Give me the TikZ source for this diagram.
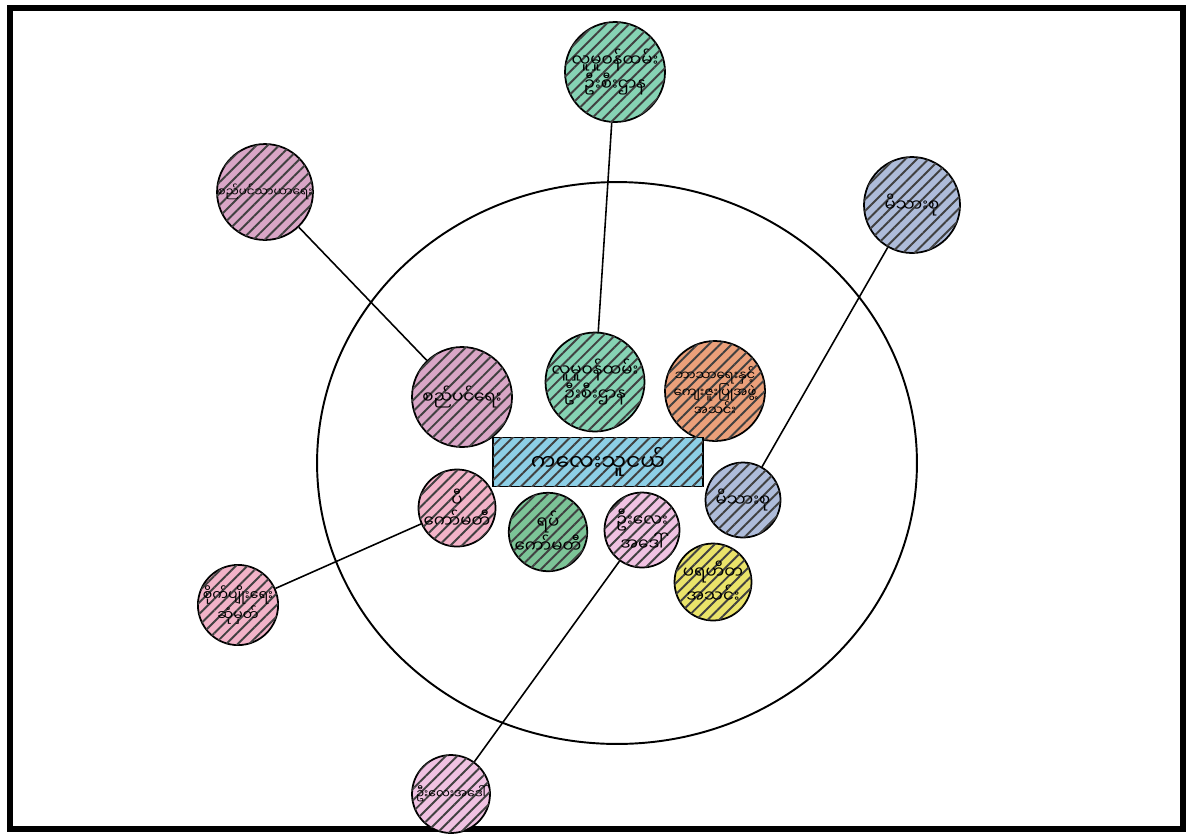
\documentclass[tikz,border=0pt]{standalone}
\usepackage{fontspec}
\newfontfamily\mmfont[Script=Myanmar]{Noto Sans Myanmar UI}
\usetikzlibrary{patterns.meta}
\definecolor{hatchGreen}{HTML}{86D3B4}
\definecolor{hatchMauve}{HTML}{D9A6C6}
\definecolor{hatchBlue}{HTML}{AEBCDA}
\definecolor{hatchOrange}{HTML}{EBA07A}
\definecolor{hatchSky}{HTML}{8DCFE6}
\definecolor{hatchRose}{HTML}{F2B3C8}
\definecolor{hatchLeaf}{HTML}{7CC497}
\definecolor{hatchLilac}{HTML}{F0C2E2}
\definecolor{hatchYellow}{HTML}{EAE36A}
\tikzset{
  hatched/.style={postaction={pattern={Lines[angle=45,distance=4.6pt,line width=1.1pt]},
                  pattern color=black!75}},
  bubble/.style={circle, draw=black, line width=1pt, inner sep=0pt, align=center,
                 font=\mmfont\fontsize{9.5}{12}\selectfont, hatched},
  bigBubble/.style={bubble, minimum size=2cm},
  smallBubble/.style={bubble, minimum size=1.5cm},
  tinyText/.style={font=\mmfont\fontsize{6.8}{9}\selectfont},
  link/.style={draw=black, line width=0.9pt},
}

\begin{document}
\begin{tikzpicture}[x=0.02cm, y=-0.02cm]
  \useasboundingbox (0,0) rectangle (1192,836);
  \fill[white] (0,0) rectangle (1192,836);
  \draw[line width=3pt] (10,8) rectangle (1183,829);

  % community ring
  \draw[line width=1.1pt] (617,463) ellipse [x radius=6cm, y radius=5.62cm];

  % outer bubbles
  \node[bigBubble, fill=hatchGreen] (welfareOut) at (615,72) {လူမှုဝန်ထမ်း\\ဦးစီးဌာန};
  \node[bigBubble, minimum size=1.9cm, fill=hatchMauve, tinyText] (townOut) at (265,192) {စည်ပင်သာယာရေး};
  \node[bigBubble, minimum size=1.92cm, fill=hatchBlue] (familyOut) at (912,205) {မိသားစု};
  \node[smallBubble, minimum size=1.6cm, fill=hatchRose, font=\mmfont\fontsize{8}{10.5}\selectfont] (fieldOut) at (238,605) {စိုက်ပျိုးရေး\\ဆုံမှတ်};
  \node[smallBubble, minimum size=1.56cm, fill=hatchLilac, font=\mmfont\fontsize{7}{9}\selectfont] (kinOut) at (451,794) {ဦးလေးအဒေါ်};

  % inner bubbles
  \node[bigBubble, fill=hatchMauve] (townIn) at (462,397) {စည်ပင်ရေး};
  \node[bigBubble, minimum size=1.98cm, fill=hatchGreen] (welfareIn) at (595,382) {လူမှုဝန်ထမ်း\\ဦးစီးဌာန};
  \node[bigBubble, fill=hatchOrange, font=\mmfont\fontsize{7.5}{10}\selectfont] (faithIn) at (715,391) {ဘာသာရေးနှင့်\\ကျေးဇူးပြုအဖွဲ့\\အသင်း};
  \node[smallBubble, fill=hatchRose] (fieldIn) at (457,508) {ပီ\\ကော်မတီ};
  \node[smallBubble, minimum size=1.54cm, fill=hatchLeaf] (villageIn) at (548,532) {ရပ်\\ကော်မတီ};
  \node[smallBubble, fill=hatchLilac] (kinIn) at (642,530) {ဦးလေး\\အဒေါ်};
  \node[smallBubble, fill=hatchBlue] (familyIn) at (743,500) {မိသားစု};
  \node[smallBubble, minimum size=1.54cm, fill=hatchYellow] (charityIn) at (713,582) {ပရဟိတ\\အသင်း};

  % centre
  \node[draw=black, line width=1pt, fill=hatchSky, hatched, minimum width=4.2cm, minimum height=0.98cm,
        font=\mmfont\fontsize{12.5}{14}\selectfont] (child) at (598,462) {ကလေးသူငယ်};

  % links
  \draw[link] (welfareOut) -- (welfareIn);
  \draw[link] (townOut) -- (townIn);
  \draw[link] (familyOut) -- (familyIn);
  \draw[link] (fieldOut) -- (fieldIn);
  \draw[link] (kinOut) -- (kinIn);
\end{tikzpicture}
\end{document}
